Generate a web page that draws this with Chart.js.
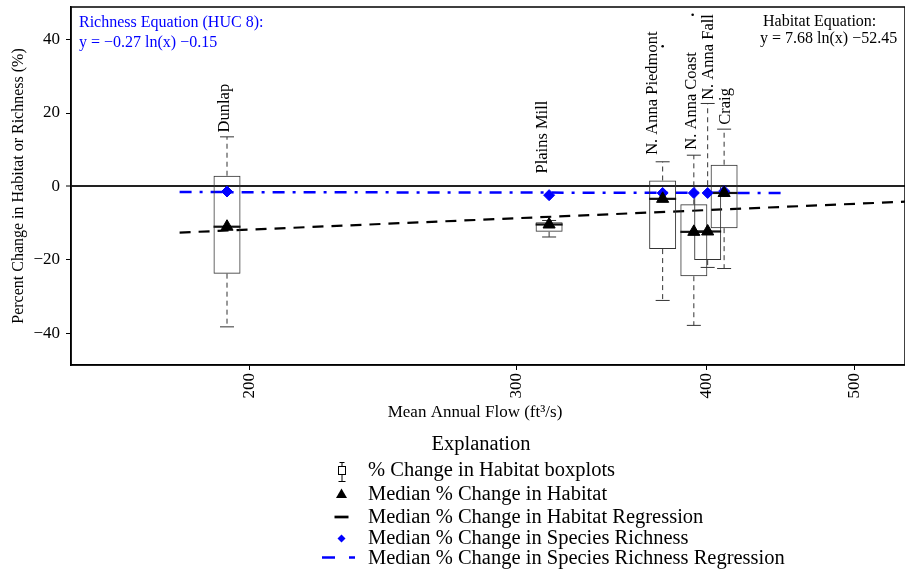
<!DOCTYPE html>
<html lang="en">
<head>
<meta charset="UTF-8" />
<title>Percent change in habitat and richness vs mean annual flow</title>
<style>
  html, body { margin: 0; padding: 0; background: #fff; }
</style>
</head>
<body>
<canvas id="chart" width="905" height="572"></canvas>

<script src="https://cdn.jsdelivr.net/npm/chart.js"></script>
<script>
// values
const sites = ["Dunlap", "Plains Mill", "N. Anna Piedmont", "N. Anna Coast", "N. Anna Fall", "Craig"];
const meanFlow = [193.4, 315.0, 374.1, 392.2, 400.5, 410.6];
const whiskerLow = [-38.3, -13.8, -31.1, -37.9, -22.1, -22.4];
const q1 = [-23.8, -12.4, -17.1, -24.5, -20.1, -11.4];
const habitatMedian = [-11.0, -10.4, -3.4, -12.4, -12.3, -1.8];
const q3 = [2.9, -9.8, 1.6, -4.9, 0.3, 5.9];
const whiskerHigh = [13.5, -9.3, 6.7, 8.5, 22.6, 15.6];
const richnessMedian = [-1.4, -2.4, -1.8, -1.8, -1.8, -1.3];

const outlierFlow = [374.1, 391.5];
const outlierValue = [38.2, 46.8];

// regression lines (straight on the log axis), end points
const habitatFitFlow = [180, 545];
const habitatFitValue = [-12.6, -4.1];
const richnessFitFlow = [180, 448];
const richnessFitValue = [-1.55, -1.8];

const xTicks = [200, 300, 400, 500];
const yTicks = [-40, -20, 0, 20, 40];

const legendLabels = [
  "% Change in Habitat boxplots",
  "Median % Change in Habitat",
  "Median % Change in Habitat Regression",
  "Median % Change in Species Richness",
  "Median % Change in Species Richness Regression"
];

const SERIF = '"Liberation Serif", "Times New Roman", serif';
const BLUE = "#0000ff";
const minus = (v) => (v < 0 ? "\u2212" + Math.abs(v) : String(v));

Chart.defaults.font.family = SERIF;
Chart.defaults.color = "#000";

// where the site names sit (value at the bottom of the text, pixel nudge)
const siteLabelAt = [
  { at: 14.7, dx: -2 },
  { at: 3.5, dx: -6 },
  { at: 8.6, dx: -10 },
  { at: 10.0, dx: -2 },
  { at: 23.6, dx: 1 },
  { at: 16.8, dx: 2 }
];

const pts = (xs, ys) => xs.map((x, i) => ({ x: x, y: ys[i] }));

const whiskers = [];
sites.forEach((s, i) => {
  const f = meanFlow[i];
  whiskers.push({ x: f, y: q3[i] }, { x: f, y: whiskerHigh[i] }, { x: f, y: null });
  whiskers.push({ x: f, y: q1[i] }, { x: f, y: whiskerLow[i] }, { x: f, y: null });
});

const decorations = {
  id: "decorations",
  afterDatasetsDraw(chart) {
    const { ctx, chartArea: a } = chart;
    const x = chart.scales.x, y = chart.scales.y;
    ctx.save();
    ctx.strokeStyle = "#000";
    ctx.lineWidth = 1.5;
    ctx.strokeRect(a.left, a.top, a.right - a.left, a.bottom - a.top);

    // site names, rotated
    ctx.font = "16.5px " + SERIF;
    ctx.fillStyle = "#000";
    ctx.textAlign = "left";
    ctx.textBaseline = "middle";
    sites.forEach((name, i) => {
      ctx.save();
      ctx.translate(x.getPixelForValue(meanFlow[i]) + siteLabelAt[i].dx, y.getPixelForValue(siteLabelAt[i].at));
      ctx.rotate(-Math.PI / 2);
      ctx.fillText(name, 0, 0);
      ctx.restore();
    });

    // equations
    ctx.font = "16px " + SERIF;
    ctx.fillStyle = BLUE;
    ctx.fillText("Richness Equation (HUC 8):", 79, 23);
    ctx.fillText("y = \u22120.27 ln(x) \u22120.15", 79, 43);
    ctx.fillStyle = "#000";
    ctx.fillText("Habitat Equation:", 763, 22);
    ctx.fillText("y = 7.68 ln(x) \u221252.45", 760, 39);

    // x axis title
    ctx.font = "17px " + SERIF;
    ctx.textAlign = "center";
    ctx.fillText("Mean Annual Flow (ft\u00b3/s)", 475, 413);
    ctx.restore();
  },
  afterDraw(chart) {
    const ctx = chart.ctx;
    ctx.save();
    ctx.fillStyle = "#000";
    ctx.font = "20.5px " + SERIF;
    ctx.textBaseline = "middle";
    ctx.textAlign = "center";
    ctx.fillText("Explanation", 481, 445);
    ctx.textAlign = "left";
    const rows = [471, 495, 518, 539, 559];
    legendLabels.forEach((t, i) => ctx.fillText(t, 368, rows[i]));

    // boxplot icon
    ctx.strokeStyle = "#000";
    ctx.lineWidth = 1;
    ctx.strokeRect(338.5, 466.5, 7, 8);
    ctx.beginPath();
    ctx.moveTo(339.5, 462.5); ctx.lineTo(344.5, 462.5);
    ctx.moveTo(342, 462.5); ctx.lineTo(342, 466.5);
    ctx.moveTo(342, 474.5); ctx.lineTo(342, 481);
    ctx.moveTo(338.5, 481.5); ctx.lineTo(345.5, 481.5);
    ctx.stroke();

    // triangle
    ctx.beginPath();
    ctx.moveTo(341.5, 488.5); ctx.lineTo(347, 498); ctx.lineTo(336, 498);
    ctx.closePath();
    ctx.fill();

    // habitat regression
    ctx.lineWidth = 2.7;
    ctx.beginPath();
    ctx.moveTo(334.5, 517); ctx.lineTo(348.5, 517);
    ctx.stroke();

    // diamond
    ctx.fillStyle = BLUE;
    ctx.beginPath();
    ctx.moveTo(341.5, 534.5); ctx.lineTo(345.5, 538.5); ctx.lineTo(341.5, 542.5); ctx.lineTo(337.5, 538.5);
    ctx.closePath();
    ctx.fill();

    // richness regression
    ctx.strokeStyle = BLUE;
    ctx.beginPath();
    ctx.moveTo(322, 557.5); ctx.lineTo(335, 557.5);
    ctx.moveTo(349, 557.5); ctx.lineTo(355, 557.5);
    ctx.stroke();
    ctx.restore();
  }
};

new Chart(document.getElementById("chart"), {
  type: "scatter",
  data: {
    datasets: [
      {
        label: "Median % Change in Habitat",
        data: pts(meanFlow, habitatMedian),
        pointStyle: "triangle",
        pointRadius: 7,
        backgroundColor: "#000",
        borderColor: "#000",
        borderWidth: 1,
        showLine: false,
        order: 0
      },
      {
        label: "Median % Change in Species Richness",
        data: pts(meanFlow, richnessMedian),
        pointStyle: "rectRot",
        pointRadius: 5.5,
        backgroundColor: BLUE,
        borderColor: BLUE,
        borderWidth: 1,
        showLine: false,
        order: 1
      },
      {
        label: "medians",
        data: pts(meanFlow, habitatMedian),
        pointStyle: "line",
        pointRadius: 13.5,
        borderColor: "#111",
        borderWidth: 2.2,
        showLine: false,
        order: 2
      },
      {
        label: "caps",
        data: pts(meanFlow, whiskerHigh).concat(pts(meanFlow, whiskerLow)),
        pointStyle: "line",
        pointRadius: 7,
        borderColor: "#333",
        borderWidth: 1,
        showLine: false,
        order: 3
      },
      {
        label: "outliers",
        data: pts(outlierFlow, outlierValue),
        pointRadius: 1.3,
        backgroundColor: "#000",
        borderColor: "#000",
        borderWidth: 0,
        showLine: false,
        order: 3
      },
      {
        type: "line",
        label: "whiskers",
        data: whiskers,
        borderColor: "#333",
        borderWidth: 1,
        borderDash: [5, 4],
        pointRadius: 0,
        showLine: true,
        spanGaps: false,
        fill: false,
        order: 4
      },
      {
        type: "bar",
        label: "% Change in Habitat boxplots",
        data: meanFlow.map((f, i) => ({ x: f, y: [q1[i], q3[i]] })),
        backgroundColor: "rgba(0,0,0,0)",
        borderColor: "#333",
        borderWidth: 1,
        borderSkipped: false,
        barThickness: 27,
        grouped: false,
        inflateAmount: 0,
        order: 5
      },
      {
        type: "line",
        label: "Median % Change in Species Richness Regression",
        data: pts(richnessFitFlow, richnessFitValue),
        borderColor: BLUE,
        borderWidth: 2.5,
        borderDash: [12, 8, 3, 8],
        pointRadius: 0,
        showLine: true,
        fill: false,
        order: 6
      },
      {
        type: "line",
        label: "Median % Change in Habitat Regression",
        data: pts(habitatFitFlow, habitatFitValue),
        borderColor: "#000",
        borderWidth: 2.2,
        borderDash: [11, 8],
        pointRadius: 0,
        showLine: true,
        fill: false,
        order: 7
      }
    ]
  },
  options: {
    responsive: false,
    animation: false,
    events: [],
    layout: { autoPadding: false, padding: { top: 7, right: 0, bottom: 147, left: 0 } },
    plugins: {
      legend: { display: false },
      tooltip: { enabled: false }
    },
    scales: {
      x: {
        type: "logarithmic",
        min: 152.7,
        max: 540,
        offset: false,
        afterBuildTicks: (s) => { s.ticks = xTicks.map((v) => ({ value: v })); },
        afterFit: (s) => {
          s.height = 60;
          s.paddingLeft = 0;
          s.paddingRight = 0;
        },
        ticks: {
          minRotation: 90,
          maxRotation: 90,
          padding: 3,
          font: { size: 17 },
          callback: (v) => String(v)
        },
        grid: {
          offset: false,
          drawOnChartArea: false,
          tickLength: 5,
          tickColor: "#000"
        },
        border: { color: "#000", width: 1.5 }
      },
      y: {
        min: -48.7,
        max: 48.9,
        afterBuildTicks: (s) => { s.ticks = yTicks.map((v) => ({ value: v })); },
        afterFit: (s) => {
          s.width = 71;
          s.paddingTop = 0;
          s.paddingBottom = 0;
        },
        ticks: {
          padding: 6,
          font: { size: 17 },
          callback: (v) => minus(v)
        },
        grid: {
          color: (c) => (c.tick && c.tick.value === 0 ? "#222" : "rgba(0,0,0,0)"),
          lineWidth: (c) => (c.tick && c.tick.value === 0 ? 2 : 1),
          tickLength: 5,
          tickColor: "#000",
          tickWidth: 1
        },
        border: { color: "#000", width: 1.5 },
        title: {
          display: true,
          text: "Percent Change in Habitat or Richness (%)",
          font: { size: 16 },
          padding: { top: 9, bottom: 0 }
        }
      }
    }
  },
  plugins: [decorations]
});
</script>
</body>
</html>
